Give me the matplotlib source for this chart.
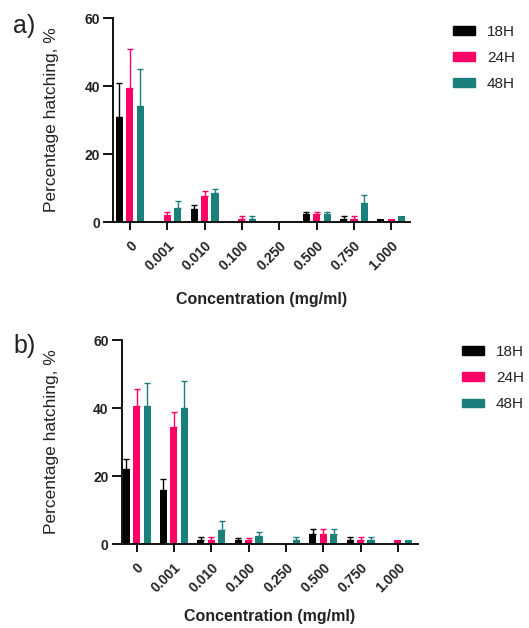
import matplotlib
matplotlib.use("Agg")
import matplotlib.pyplot as plt
from matplotlib.patches import Patch
import numpy as np

plt.rcParams['font.family'] = ['Liberation Sans', 'DejaVu Sans']

conc = ["0", "0.001", "0.010", "0.100", "0.250", "0.500", "0.750", "1.000"]
series = ["18H", "24H", "48H"]
colors = ["#000000", "#FF0066", "#1B807B"]

# panel a) means and upper errors
a_18 = [30.8, 0, 3.9, 0, 0, 2.3, 1.0, 0.9]
a_18_err = [10.2, 0, 1.2, 0, 0, 0.7, 0.7, 0]
a_24 = [39.3, 2.0, 7.6, 1.0, 0, 2.3, 1.0, 0.9]
a_24_err = [11.5, 0.9, 1.4, 0.7, 0, 0.7, 0.7, 0]
a_48 = [34.2, 4.2, 8.4, 1.0, 0, 2.3, 5.7, 1.8]
a_48_err = [10.8, 2.1, 1.3, 0.7, 0, 0.7, 2.1, 0]

# panel b)
b_18 = [22.1, 15.9, 1.3, 1.2, 0, 2.9, 1.3, 0]
b_18_err = [2.9, 3.2, 0.9, 0.7, 0, 1.6, 0.9, 0]
b_24 = [40.7, 34.3, 1.3, 1.2, 0, 2.9, 1.3, 1.3]
b_24_err = [4.9, 4.6, 0.9, 0.7, 0, 1.6, 0.9, 0]
b_48 = [40.7, 40.0, 4.2, 2.5, 1.3, 2.9, 1.3, 1.3]
b_48_err = [6.7, 7.8, 2.6, 1.1, 0.9, 1.6, 0.9, 0]

fig = plt.figure(figsize=(5.29, 6.28), dpi=100)

W, H = 529, 628
TXT = '#222222'


def make_axes(left, right, top, bottom):
    return fig.add_axes([left / W, 1 - bottom / H, (right - left) / W, (bottom - top) / H])


def draw(ax, data, errs, xlim, ylab_x, xlab_y):
    x = np.arange(len(conc))
    offs = [-0.28, 0.0, 0.28]
    w = 0.19
    for vals, er, c, o in zip(data, errs, colors, offs):
        vals = np.array(vals, float)
        er = np.array(er, float)
        ax.bar(x + o, vals, width=w, color=c, zorder=2)
        m = er > 0
        ax.errorbar(x[m] + o, vals[m], yerr=[np.zeros(m.sum()), er[m]], fmt='none',
                    ecolor=c, elinewidth=1.0, capsize=2.0, capthick=1.0, zorder=1)
    ax.set_xlim(*xlim)
    ax.set_ylim(0, 60)
    ax.set_yticks([0, 20, 40, 60])
    ax.set_xticks(x)
    ax.set_xticklabels(conc, rotation=45, ha='right', va='top', rotation_mode='anchor',
                       fontsize=10, fontweight='bold', color=TXT)
    for lbl in ax.get_yticklabels():
        lbl.set_fontweight('bold')
        lbl.set_fontsize(10)
        lbl.set_color(TXT)
    for s in ['top', 'right']:
        ax.spines[s].set_visible(False)
    for s in ['left', 'bottom']:
        ax.spines[s].set_linewidth(1.4)
        ax.spines[s].set_color('#111111')
    ax.tick_params(axis='y', length=7.5, width=1.4, color='#111111', pad=2)
    ax.tick_params(axis='x', length=6, width=1.4, color='#111111', pad=6)
    ax.set_ylabel("Percentage hatching, %", fontsize=12.5, color=TXT)
    ax.yaxis.set_label_coords(ylab_x, 0.5)
    ax.set_xlabel("Concentration (mg/ml)", fontsize=11.5, fontweight='bold', color=TXT)
    ax.xaxis.set_label_coords(0.5, xlab_y)


ax1 = make_axes(113, 410, 18, 222)
draw(ax1, [a_18, a_24, a_48], [a_18_err, a_24_err, a_48_err], (-0.45, 7.5), -0.1835, -0.343)
ax2 = make_axes(121.7, 418, 340, 544)
draw(ax2, [b_18, b_24, b_48], [b_18_err, b_24_err, b_48_err], (-0.4, 7.54), -0.2116, -0.319)

fig.text(13 / W, 1 - 26 / H, "a)", fontsize=18, va='center', ha='left', color=TXT)
fig.text(13 / W, 1 - 346 / H, "b)", fontsize=18, va='center', ha='left', color=TXT)

handles = [Patch(facecolor=c, edgecolor=c) for c in colors]
for (lx, ty) in [(453, 24.7), (462, 345)]:
    fig.legend(handles, series, loc='upper left', bbox_to_anchor=(lx / W, 1 - ty / H),
               frameon=False, fontsize=11, borderaxespad=0, borderpad=0,
               handlelength=1.44, handleheight=0.52, handletextpad=0.78,
               labelspacing=0.8, labelcolor=TXT)

fig.savefig("out.png", dpi=100)
